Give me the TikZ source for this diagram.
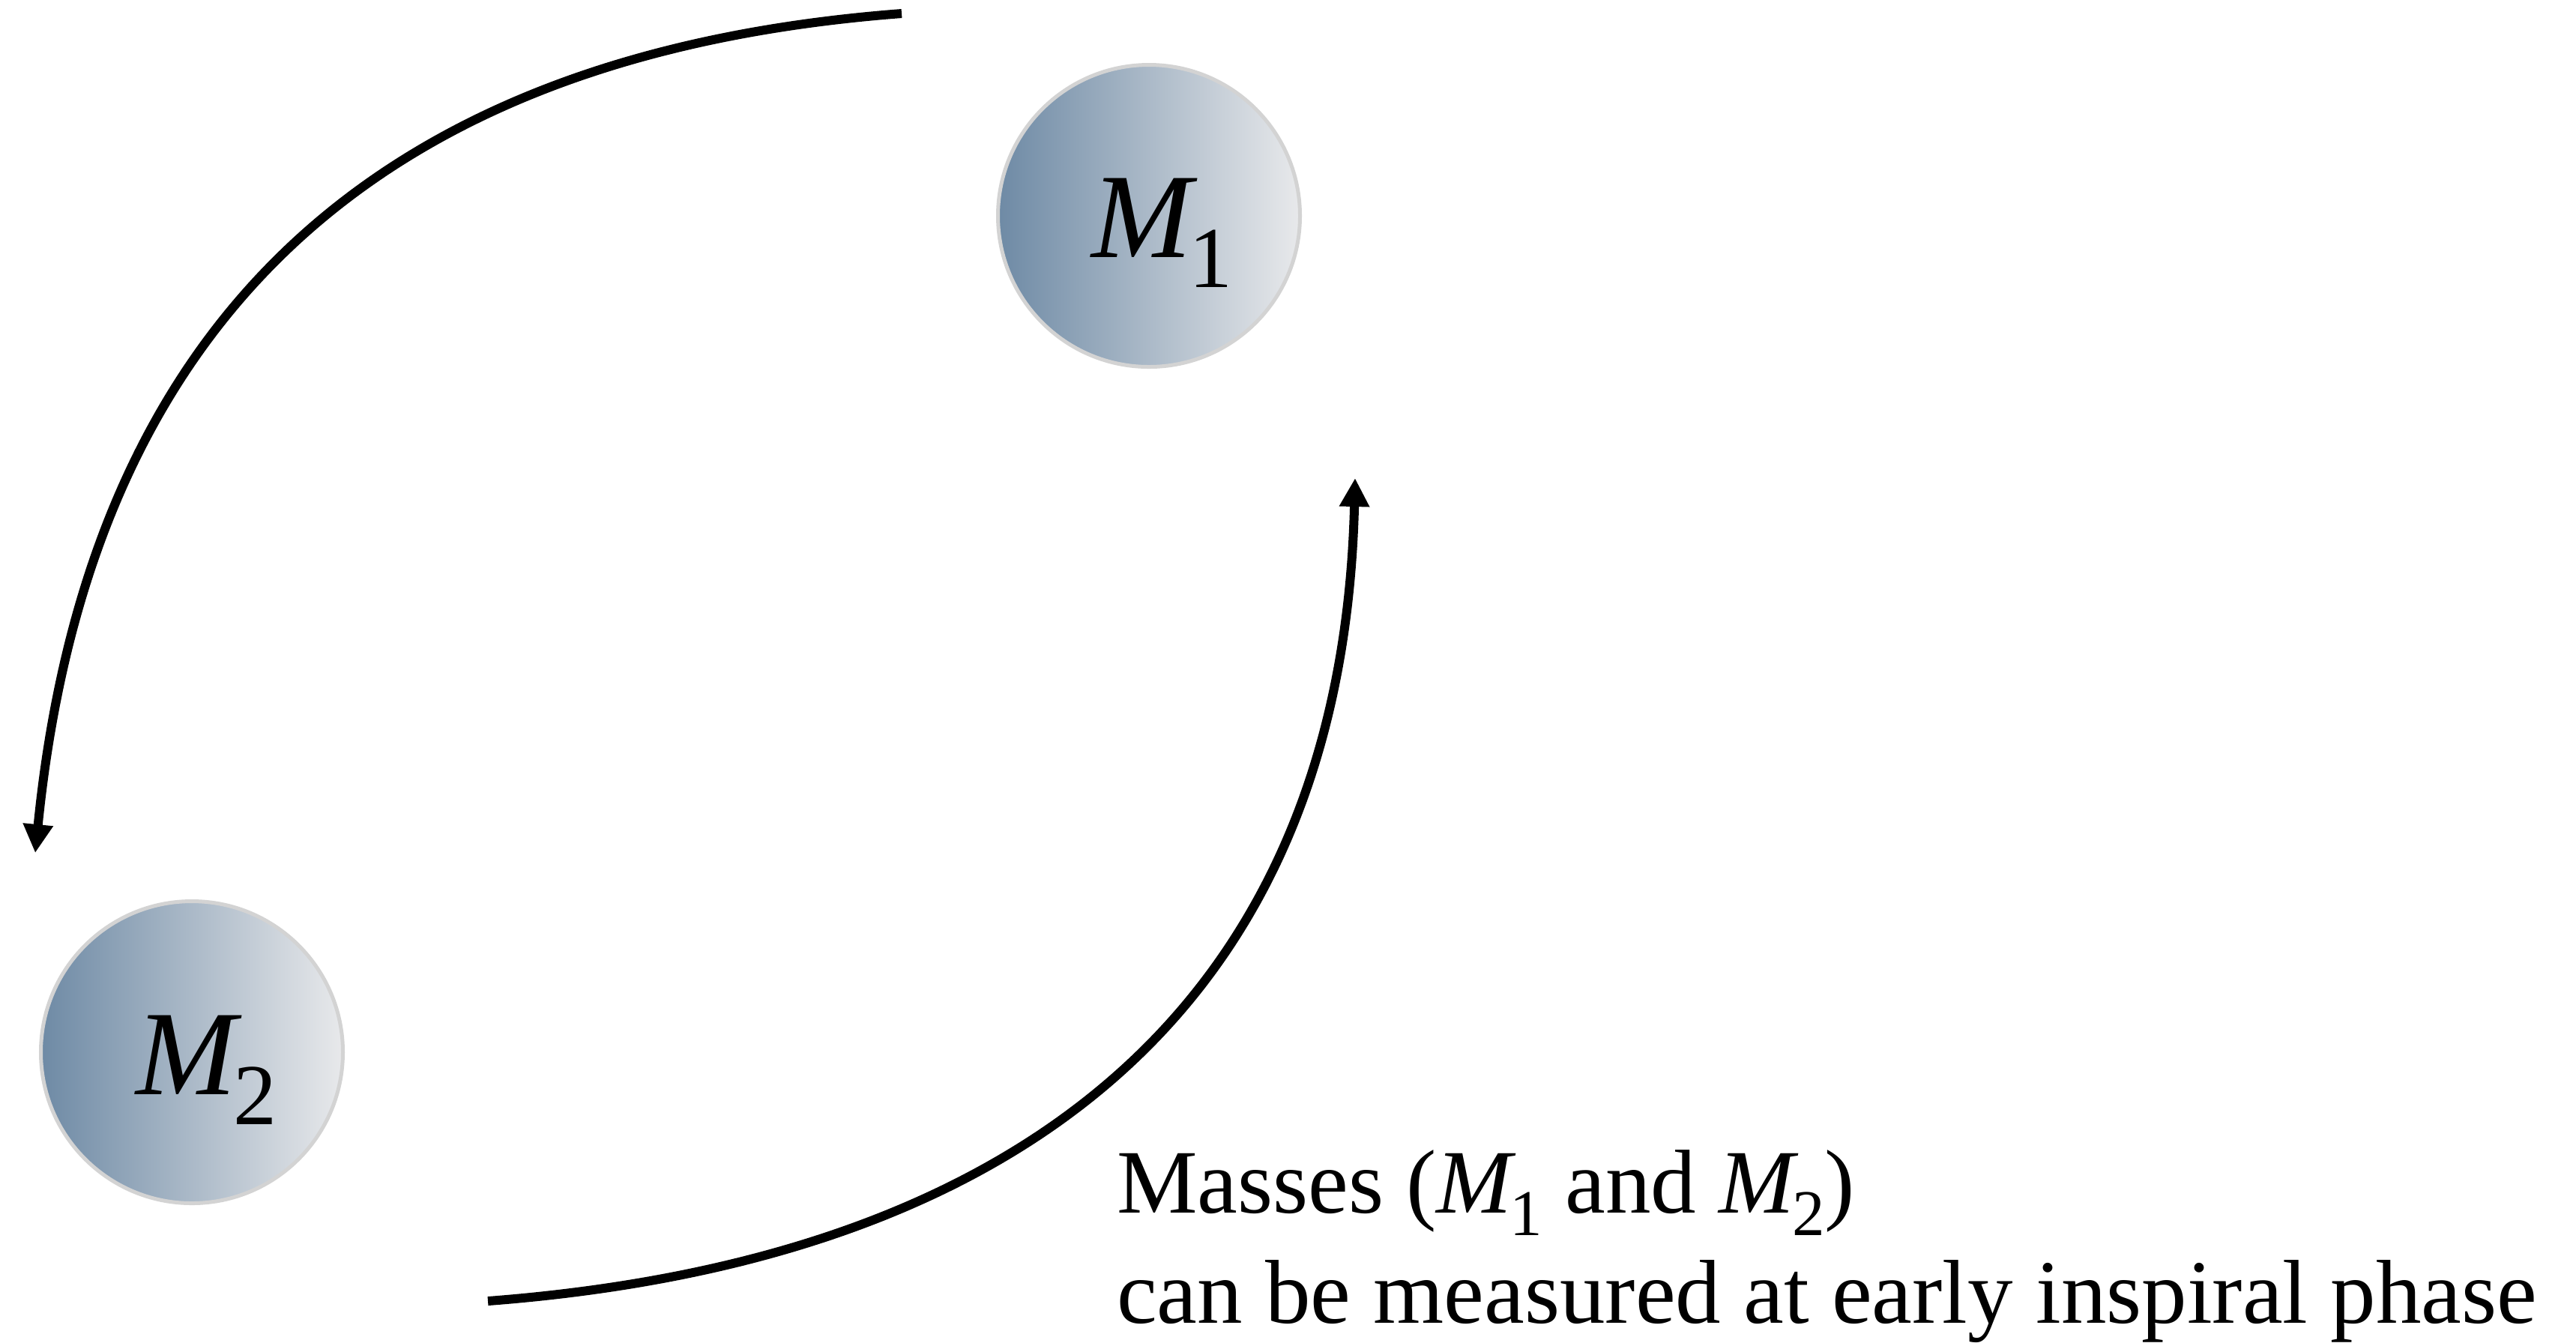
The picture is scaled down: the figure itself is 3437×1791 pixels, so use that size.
\documentclass[tikz,border=0pt]{standalone}
\usepackage{fontspec}
\setmainfont{Liberation Serif}
\usetikzlibrary{arrows.meta}
\definecolor{ballL}{RGB}{110,138,165}
\definecolor{ballR}{RGB}{232,233,235}
\definecolor{ballB}{RGB}{211,211,211}
\newcommand\Msub[1]{\textit{M}\kern-0.07em\raisebox{-0.25em}{\scalebox{0.72}{#1}}}
\tikzset{
  ball/.style={circle, inner sep=0pt, minimum size=80.6pt, line width=1pt, draw=ballB, left color=ballL, right color=ballR},
  balltext/.style={anchor=base west, inner sep=0pt, font=\fontsize{32.2pt}{38pt}\selectfont},
  labeltext/.style={anchor=base west, inner sep=0pt, font=\fontsize{24.2pt}{29pt}\selectfont},
  orbit/.style={line width=2.4pt, -{Triangle[length=7.6pt,width=7.6pt]}}
}
\begin{document}
\begin{tikzpicture}[x=0.2pt,y=-0.2pt]
\useasboundingbox (0,0) rectangle (3437,1791);
\node[ball] (m1) at (1533,288) {};
\node[ball] (m2) at (256,1404) {};
\node[balltext] (m1t) at (1455,343) {\Msub{1}};
\node[balltext] (m2t) at (180,1460) {\Msub{2}};
\coordinate (s1) at (1203,18);
\coordinate (e1) at (47,1138);
\coordinate (s2) at (651,1736);
\coordinate (e2) at (1808,638);
\draw[orbit] (s1) .. controls (523,70) and (120,408) .. (e1);
\draw[orbit] (s2) .. controls (1331,1684) and (1790,1368) .. (e2);
\node[labeltext] (l1) at (1489,1618) {Masses (\Msub{1} and \Msub{2})};
\node[labeltext] (l2) at (1489,1765) {can be measured at early inspiral phase};
\end{tikzpicture}
\end{document}
